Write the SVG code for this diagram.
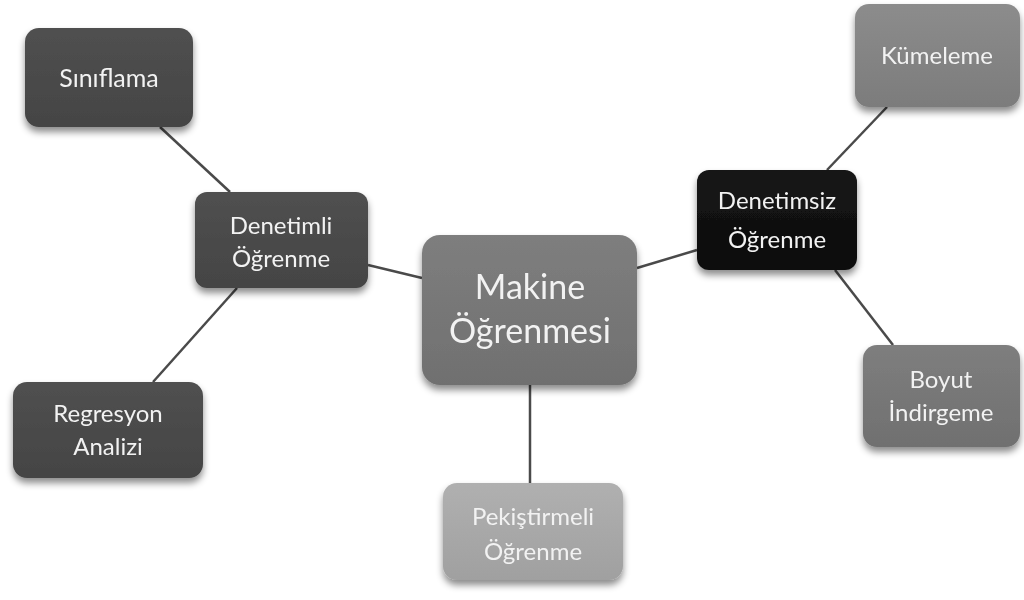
<svg xmlns="http://www.w3.org/2000/svg" width="1024" height="600" viewBox="0 0 1024 600">
  <style>
    .lbl { font-family: Lato, "Open Sans", "DejaVu Sans", sans-serif; fill: #f2f2f2; text-anchor: middle; }
    .edge { stroke: #4a4a4a; stroke-width: 2.5; fill: none; }
  </style>
  <defs>
    <filter id="shadow" x="-20%" y="-20%" width="140%" height="150%">
      <feDropShadow dx="0" dy="5" stdDeviation="3.5" flood-color="#000" flood-opacity="0.45"/>
    </filter>
    <linearGradient id="gDark" x1="0" y1="0" x2="0" y2="1">
      <stop offset="0" stop-color="#505050"/><stop offset="1" stop-color="#444"/>
    </linearGradient>
    <linearGradient id="gBlack" x1="0" y1="0" x2="0" y2="1">
      <stop offset="0" stop-color="#161616"/><stop offset="1" stop-color="#0c0c0c"/>
    </linearGradient>
    <linearGradient id="gMid" x1="0" y1="0" x2="0" y2="1">
      <stop offset="0" stop-color="#7e7e7e"/><stop offset="1" stop-color="#707070"/>
    </linearGradient>
    <linearGradient id="gGrey" x1="0" y1="0" x2="0" y2="1">
      <stop offset="0" stop-color="#8c8c8c"/><stop offset="1" stop-color="#7c7c7c"/>
    </linearGradient>
    <linearGradient id="gLight" x1="0" y1="0" x2="0" y2="1">
      <stop offset="0" stop-color="#b0b0b0"/><stop offset="1" stop-color="#a0a0a0"/>
    </linearGradient>
  </defs>
  <rect width="1024" height="600" fill="#ffffff"/>

  <g id="connectors">
    <line class="edge" x1="160" y1="127" x2="230" y2="192"/>
    <line class="edge" x1="237" y1="288" x2="153" y2="382"/>
    <line class="edge" x1="368" y1="265" x2="422" y2="278"/>
    <line class="edge" x1="637" y1="268" x2="697" y2="250"/>
    <line class="edge" x1="827" y1="170" x2="887" y2="107"/>
    <line class="edge" x1="835" y1="270" x2="893" y2="345"/>
    <line class="edge" x1="530" y1="385" x2="530" y2="483"/>
  </g>

  <g id="node-siniflama" filter="url(#shadow)">
    <rect x="25" y="28" width="168" height="99" rx="14" fill="url(#gDark)"/>
    <text class="lbl" x="109" y="87" font-size="25">Sınıflama</text>
  </g>

  <g id="node-denetimli" filter="url(#shadow)">
    <rect x="195" y="192" width="173" height="96" rx="12" fill="url(#gDark)"/>
    <text class="lbl" x="281" y="234" font-size="24">Denetimli</text>
    <text class="lbl" x="281" y="267" font-size="24">Öğrenme</text>
  </g>

  <g id="node-regresyon" filter="url(#shadow)">
    <rect x="13" y="382" width="190" height="96" rx="14" fill="url(#gDark)"/>
    <text class="lbl" x="108" y="422" font-size="24">Regresyon</text>
    <text class="lbl" x="108" y="455" font-size="24">Analizi</text>
  </g>

  <g id="node-makine" filter="url(#shadow)">
    <rect x="422" y="235" width="215" height="150" rx="18" fill="url(#gMid)"/>
    <text class="lbl" x="530" y="299" font-size="34">Makine</text>
    <text class="lbl" x="530" y="343" font-size="34">Öğrenmesi</text>
  </g>

  <g id="node-denetimsiz" filter="url(#shadow)">
    <rect x="697" y="170" width="160" height="100" rx="12" fill="url(#gBlack)"/>
    <text class="lbl" x="777" y="209" font-size="24">Denetimsiz</text>
    <text class="lbl" x="777" y="248" font-size="24">Öğrenme</text>
  </g>

  <g id="node-kumeleme" filter="url(#shadow)">
    <rect x="855" y="4" width="165" height="103" rx="14" fill="url(#gGrey)"/>
    <text class="lbl" x="937" y="64" font-size="24">Kümeleme</text>
  </g>

  <g id="node-boyut" filter="url(#shadow)">
    <rect x="863" y="345" width="157" height="102" rx="14" fill="url(#gMid)"/>
    <text class="lbl" x="941" y="388" font-size="24">Boyut</text>
    <text class="lbl" x="941" y="421" font-size="24">İndirgeme</text>
  </g>

  <g id="node-pekistirmeli" filter="url(#shadow)">
    <rect x="443" y="483" width="180" height="97" rx="14" fill="url(#gLight)"/>
    <text class="lbl" x="533" y="525" font-size="24">Pekiştirmeli</text>
    <text class="lbl" x="533" y="560" font-size="24">Öğrenme</text>
  </g>
</svg>
